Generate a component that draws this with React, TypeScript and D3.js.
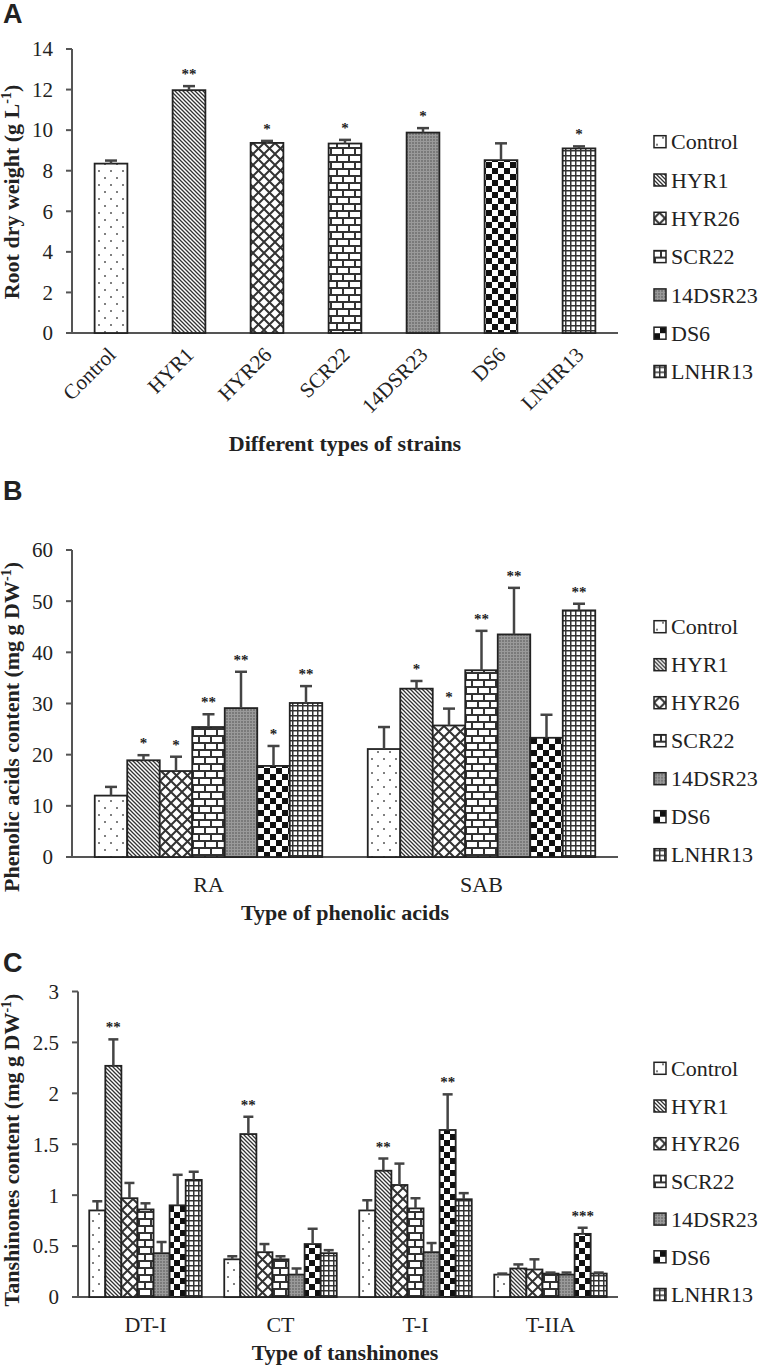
import React from "react";
import * as d3 from "d3";

const strains = ["Control", "HYR1", "HYR26", "SCR22", "14DSR23", "DS6", "LNHR13"];

// panel A: root dry weight
const rootWeight = [8.35, 11.97, 9.37, 9.34, 9.88, 8.52, 9.1];
const rootWeightErr = [0.15, 0.2, 0.1, 0.18, 0.22, 0.83, 0.1];
const rootWeightSig = ["", "**", "*", "*", "*", "", "*"];

// panel B: phenolic acids (rows = acid, cols = strain)
const acids = ["RA", "SAB"];
const acidMean = [
  [12.0, 18.9, 16.8, 25.4, 29.1, 17.8, 30.1],
  [21.1, 32.9, 25.7, 36.5, 43.5, 23.3, 48.2],
];
const acidErr = [
  [1.7, 1.0, 2.8, 2.5, 7.1, 3.9, 3.3],
  [4.3, 1.5, 3.3, 7.7, 9.1, 4.5, 1.3],
];
const acidSig = [
  ["", "*", "*", "**", "**", "*", "**"],
  ["", "*", "*", "**", "**", "", "**"],
];

// panel C: tanshinones
const tanTypes = ["DT-I", "CT", "T-I", "T-IIA"];
const tanMean = [
  [0.85, 2.27, 0.97, 0.86, 0.43, 0.9, 1.15],
  [0.37, 1.6, 0.44, 0.37, 0.22, 0.52, 0.43],
  [0.85, 1.24, 1.1, 0.87, 0.44, 1.64, 0.96],
  [0.22, 0.28, 0.27, 0.23, 0.22, 0.62, 0.23],
];
const tanErr = [
  [0.09, 0.26, 0.15, 0.06, 0.11, 0.3, 0.08],
  [0.03, 0.17, 0.08, 0.03, 0.06, 0.15, 0.03],
  [0.1, 0.12, 0.21, 0.1, 0.09, 0.35, 0.06],
  [0.01, 0.04, 0.1, 0.01, 0.02, 0.06, 0.01],
];
const tanSig = [
  ["", "**", "", "", "", "", ""],
  ["", "**", "", "", "", "", ""],
  ["", "**", "", "", "", "**", ""],
  ["", "", "", "", "", "***", ""],
];

const SERIF = "'Liberation Serif', 'Times New Roman', serif";
const SANS = "'Liberation Sans', Arial, sans-serif";
const AXIS = "#555";
const INK = "#222";
const patternIds = ["pDots", "pDiag", "pDiamond", "pBrick", "pGray", "pCheck", "pGrid"];

const Patterns = () => (
  <defs>
    <pattern id="pDots" width={12} height={14} patternUnits="userSpaceOnUse">
      <rect width={12} height={14} fill="#fff" />
      <circle cx={3} cy={3} r={1} fill="#555" />
      <circle cx={9} cy={10} r={1} fill="#555" />
    </pattern>
    <pattern id="pDiag" width={4} height={4} patternUnits="userSpaceOnUse">
      <rect width={4} height={4} fill="#fff" />
      <path d="M-1,-1 L5,5 M-1,3 L1,5 M3,-1 L5,1" stroke="#333" strokeWidth={1.3} />
    </pattern>
    <pattern id="pDiamond" width={11} height={11} patternUnits="userSpaceOnUse">
      <rect width={11} height={11} fill="#fff" />
      <path d="M0,0 L11,11 M11,0 L0,11" stroke="#333" strokeWidth={2} />
    </pattern>
    <pattern id="pBrick" width={12} height={14} patternUnits="userSpaceOnUse">
      <rect width={12} height={14} fill="#fff" />
      <path d="M0,1 H12 M0,8 H12 M1,1 V8 M7,8 V14" stroke="#333" strokeWidth={2} />
    </pattern>
    <pattern id="pGray" width={3} height={3} patternUnits="userSpaceOnUse">
      <rect width={3} height={3} fill="#7a7a7a" />
      <path d="M0,0.5 H3 M0.5,0 V3" stroke="#9a9a9a" strokeWidth={1} />
    </pattern>
    <pattern id="pCheck" width={12} height={12} patternUnits="userSpaceOnUse">
      <rect width={12} height={12} fill="#fff" />
      <rect x={0} y={0} width={6} height={6} fill="#111" />
      <rect x={6} y={6} width={6} height={6} fill="#111" />
    </pattern>
    <pattern id="pGrid" width={5} height={5} patternUnits="userSpaceOnUse">
      <rect width={5} height={5} fill="#fff" />
      <path d="M0,0.75 H5 M0.75,0 V5" stroke="#333" strokeWidth={1.5} />
    </pattern>
  </defs>
);

function YAxis({ y, x, xEnd, ticks, labelGap = 19 }) {
  return (
    <g>
      <line x1={x} x2={x} y1={y(ticks[0])} y2={y(ticks[ticks.length - 1])} stroke={AXIS} strokeWidth={2} />
      <line x1={x} x2={xEnd} y1={y(0)} y2={y(0)} stroke={AXIS} strokeWidth={2} />
      {ticks.map((t) => (
        <g key={t}>
          <line x1={x - 6} x2={x} y1={y(t)} y2={y(t)} stroke={AXIS} strokeWidth={2} />
          <text x={x - labelGap} y={y(t)} dy="0.35em" textAnchor="end" fontSize={21} fill={INK} fontFamily={SERIF}>
            {String(t)}
          </text>
        </g>
      ))}
    </g>
  );
}

function Bar({ bx, bw, v, e, sig, si, y, cap }) {
  const cx = bx + bw / 2;
  return (
    <g>
      <rect x={bx} y={y(v)} width={bw} height={y(0) - y(v)} fill={`url(#${patternIds[si]})`} stroke={INK} strokeWidth={1.8} />
      <line x1={cx} x2={cx} y1={y(v)} y2={y(v + e)} stroke="#444" strokeWidth={2.5} />
      <line x1={cx - cap} x2={cx + cap} y1={y(v + e)} y2={y(v + e)} stroke="#444" strokeWidth={2.5} />
      {sig && (
        <text x={cx} y={y(v + e) - 7} textAnchor="middle" fontSize={15} fontWeight="bold" fill={INK} fontFamily={SERIF}>
          {sig}
        </text>
      )}
    </g>
  );
}

function Legend({ x, y0, step }) {
  return (
    <g>
      {strains.map((s, i) => (
        <g key={s} transform={`translate(${x},${y0 + i * step})`}>
          <rect x={0} y={-6} width={12} height={12} fill={`url(#${patternIds[i]})`} stroke={INK} strokeWidth={1.5} />
          <text x={17} y={0} dy="0.35em" fontSize={22} fill={INK} fontFamily={SERIF}>
            {s}
          </text>
        </g>
      ))}
    </g>
  );
}

function YTitle({ x, cy, children }) {
  return (
    <text transform={`translate(${x},${cy}) rotate(-90)`} textAnchor="middle" fontSize={22} fontWeight="bold" fill={INK} fontFamily={SERIF}>
      {children}
    </text>
  );
}

function PanelA() {
  const x = d3.scaleBand().domain(strains).range([72, 618]).paddingInner(0.58).paddingOuter(0.29);
  const y = d3.scaleLinear().domain([0, 14]).range([333, 49]);
  return (
    <g>
      <text x={3} y={23} fontSize={27} fontWeight="bold" fontFamily={SANS} fill={INK}>A</text>
      <YAxis y={y} x={72} xEnd={618} ticks={y.ticks(7)} />
      {strains.map((s, i) => (
        <Bar key={s} bx={x(s)} bw={x.bandwidth()} v={rootWeight[i]} e={rootWeightErr[i]} sig={rootWeightSig[i]} si={i} y={y} cap={6} />
      ))}
      {strains.map((s) => (
        <text key={s} transform={`translate(${x(s) + x.bandwidth() / 2 + 6},356) rotate(-45)`} textAnchor="end" fontSize={21} fill={INK} fontFamily={SERIF}>
          {s}
        </text>
      ))}
      <text x={345} y={451} textAnchor="middle" fontSize={22} fontWeight="bold" fill={INK} fontFamily={SERIF}>
        Different types of strains
      </text>
      <YTitle x={19} cy={192}>
        Root dry weight (g L<tspan dy={-8} fontSize={14}>-1</tspan><tspan dy={8}>)</tspan>
      </YTitle>
      <Legend x={654} y0={141.7} step={38.3} />
    </g>
  );
}

function GroupedPanel({ letter, letterY, groups, means, errs, sigs, axisX, yDomain, yRange, nTicks, cap, title, yTitle, yTitleCy, legendY0, legendStep }) {
  const x0 = d3.scaleBand().domain(groups).range([axisX, 618]);
  const x1 = d3.scaleBand().domain(strains).range([0, x0.bandwidth()]).paddingOuter(0.7);
  const y = d3.scaleLinear().domain(yDomain).range(yRange);
  const zero = y(0);
  return (
    <g>
      <text x={3} y={letterY} fontSize={27} fontWeight="bold" fontFamily={SANS} fill={INK}>{letter}</text>
      <YAxis y={y} x={axisX} xEnd={618} ticks={y.ticks(nTicks)} />
      {groups.map((g, gi) => (
        <g key={g} transform={`translate(${x0(g)},0)`}>
          {strains.map((s, si) => (
            <Bar key={s} bx={x1(s)} bw={x1.bandwidth()} v={means[gi][si]} e={errs[gi][si]} sig={sigs[gi][si]} si={si} y={y} cap={cap} />
          ))}
          <text x={x0.bandwidth() / 2} y={zero + 35} textAnchor="middle" fontSize={22} fill={INK} fontFamily={SERIF}>
            {g}
          </text>
        </g>
      ))}
      <text x={345} y={zero + 63} textAnchor="middle" fontSize={22} fontWeight="bold" fill={INK} fontFamily={SERIF}>
        {title}
      </text>
      <YTitle x={19} cy={yTitleCy}>
        {yTitle} (mg g DW<tspan dy={-8} fontSize={14}>-1</tspan><tspan dy={8}>)</tspan>
      </YTitle>
      <Legend x={654} y0={legendY0} step={legendStep} />
    </g>
  );
}

export default function App() {
  return (
    <div style={{ position: "absolute", left: 0, top: 0 }}>
      <svg width={760} height={1370} style={{ display: "block", background: "#fff" }}>
        <Patterns />
        <PanelA />
        <GroupedPanel
          letter="B" letterY={500} groups={acids} means={acidMean} errs={acidErr} sigs={acidSig}
          axisX={72} yDomain={[0, 60]} yRange={[857, 550]} nTicks={6} cap={6}
          title="Type of phenolic acids" yTitle="Phenolic acids content" yTitleCy={727}
          legendY0={626.7} legendStep={38}
        />
        <GroupedPanel
          letter="C" letterY={972} groups={tanTypes} means={tanMean} errs={tanErr} sigs={tanSig}
          axisX={78} yDomain={[0, 3]} yRange={[1297, 991.5]} nTicks={6} cap={5}
          title="Type of tanshinones" yTitle="Tanshinones content" yTitleCy={1150}
          legendY0={1068.3} legendStep={37.7}
        />
      </svg>
    </div>
  );
}
